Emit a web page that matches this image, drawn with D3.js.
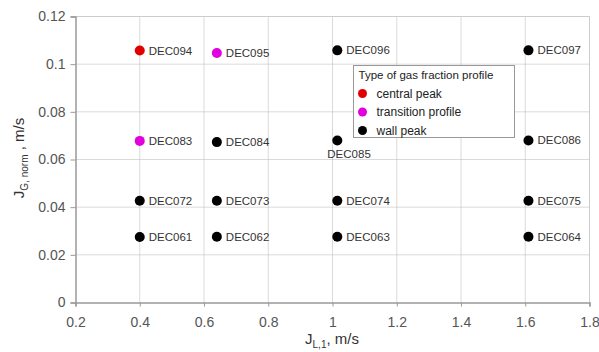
<!DOCTYPE html>
<html lang="en">
<head>
<meta charset="UTF-8">
<title>Gas fraction profile map</title>
<script src="https://d3js.org/d3.v7.min.js"></script>
<style>
    body { margin: 0; background: #fff; }
    text { font-family: "Liberation Sans", Arial, sans-serif; }
    .lbl { font-size: 11.5px; fill: #333; }
</style>
</head>
<body>
<svg id="chart" width="599" height="352"></svg>
<script>
    // Data
    const names = ["DEC094", "DEC095", "DEC096", "DEC097",
                   "DEC083", "DEC084", "DEC085", "DEC086",
                   "DEC072", "DEC073", "DEC074", "DEC075",
                   "DEC061", "DEC062", "DEC063", "DEC064"];
    const jl = [0.40, 0.64, 1.015, 1.61,
                0.40, 0.64, 1.015, 1.61,
                0.40, 0.64, 1.015, 1.61,
                0.40, 0.64, 1.015, 1.61];
    const jg = [0.1057, 0.1047, 0.1058, 0.1058,
                0.0678, 0.0673, 0.0680, 0.0680,
                0.0427, 0.0427, 0.0427, 0.0427,
                0.0275, 0.0276, 0.0276, 0.0276];
    const types = ["central peak", "transition profile", "wall peak", "wall peak",
                   "transition profile", "wall peak", "wall peak", "wall peak",
                   "wall peak", "wall peak", "wall peak", "wall peak",
                   "wall peak", "wall peak", "wall peak", "wall peak"];
    const typeNames = ["central peak", "transition profile", "wall peak"];
    const typeColors = ["#e00000", "#e000e0", "#000000"];
    const xTicks = [0.2, 0.4, 0.6, 0.8, 1, 1.2, 1.4, 1.6, 1.8];
    const yTicks = [0, 0.02, 0.04, 0.06, 0.08, 0.1, 0.12];

    const svg = d3.select("#chart");
    const pLeft = 75.5, pRight = 589.5, pTop = 16.5, pBottom = 302.5;

    const x = d3.scaleLinear().domain([0.2, 1.8]).range([pLeft, pRight]);
    const y = d3.scaleLinear().domain([0, 0.12]).range([pBottom, pTop]);
    const color = d3.scaleOrdinal().domain(typeNames).range(typeColors);

    // gridlines
    svg.append("g").selectAll("line").data(xTicks.slice(1, -1)).join("line")
        .attr("x1", d => x(d)).attr("x2", d => x(d))
        .attr("y1", pTop).attr("y2", pBottom)
        .attr("stroke", "#b5b5b5").attr("stroke-dasharray", "1,1");
    svg.append("g").selectAll("line").data(yTicks.slice(1, -1)).join("line")
        .attr("x1", pLeft).attr("x2", pRight)
        .attr("y1", d => y(d)).attr("y2", d => y(d))
        .attr("stroke", "#b5b5b5").attr("stroke-dasharray", "1,1");

    // frame top / right
    svg.append("path")
        .attr("d", `M${pLeft},${pTop}H${pRight}V${pBottom}`)
        .attr("fill", "none").attr("stroke", "#ccc");

    // axes
    const xAxis = svg.append("g").attr("transform", `translate(0,${pBottom})`)
        .call(d3.axisBottom(x).tickValues(xTicks).tickSize(4).tickPadding(11)
            .tickFormat(d3.format("")));
    const yAxis = svg.append("g").attr("transform", `translate(${pLeft},0)`)
        .call(d3.axisLeft(y).tickValues(yTicks).tickSize(5).tickPadding(5)
            .tickFormat(d => d === 0 ? "0" : String(+d.toFixed(2))));
    [xAxis, yAxis].forEach(a => {
        a.select(".domain").attr("stroke", "#999").attr("stroke-width", 1.5);
        a.selectAll(".tick line").attr("stroke", "#999");
        a.selectAll(".tick text").attr("font-size", 14).attr("fill", "#555");
    });

    // points
    const pts = names.map((n, i) => ({ name: n, jl: jl[i], jg: jg[i], type: types[i] }));
    svg.append("g").selectAll("circle").data(pts).join("circle")
        .attr("cx", d => x(d.jl)).attr("cy", d => y(d.jg))
        .attr("r", 5).attr("fill", d => color(d.type));

    svg.append("g").selectAll("text").data(pts).join("text")
        .attr("class", "lbl")
        .attr("x", d => d.name === "DEC085" ? x(d.jl) - 10 : x(d.jl) + 9)
        .attr("y", d => d.name === "DEC085" ? y(d.jg) + 18 : y(d.jg) + 4)
        .text(d => d.name);

    // legend
    const lg = svg.append("g").attr("transform", "translate(353.5,65.5)");
    lg.append("rect").attr("width", 161).attr("height", 72)
        .attr("fill", "#fff").attr("stroke", "#999");
    lg.append("text").attr("x", 5).attr("y", 13).attr("font-size", 11.5)
        .attr("fill", "#222").text("Type of gas fraction profile");
    typeNames.forEach((t, i) => {
        lg.append("circle").attr("cx", 9).attr("cy", 28 + i * 18.5).attr("r", 4.5)
            .attr("fill", typeColors[i]);
        lg.append("text").attr("x", 23).attr("y", 32 + i * 18.5).attr("font-size", 12)
            .attr("fill", "#222").text(t);
    });

    // axis titles
    const xt = svg.append("text").attr("x", 332).attr("y", 344)
        .attr("text-anchor", "middle").attr("font-size", 15).attr("fill", "#333");
    xt.append("tspan").text("J");
    xt.append("tspan").attr("font-size", 10).attr("dy", 4).text("L,1");
    xt.append("tspan").attr("dy", -4).text(", m/s");

    const yt = svg.append("text").attr("transform", "translate(24,158) rotate(-90)")
        .attr("text-anchor", "middle").attr("font-size", 15).attr("fill", "#333");
    yt.append("tspan").text("J");
    yt.append("tspan").attr("font-size", 10).attr("dy", 4).text("G, norm");
    yt.append("tspan").attr("dy", -4).text(" , m/s");
</script>
</body>
</html>
